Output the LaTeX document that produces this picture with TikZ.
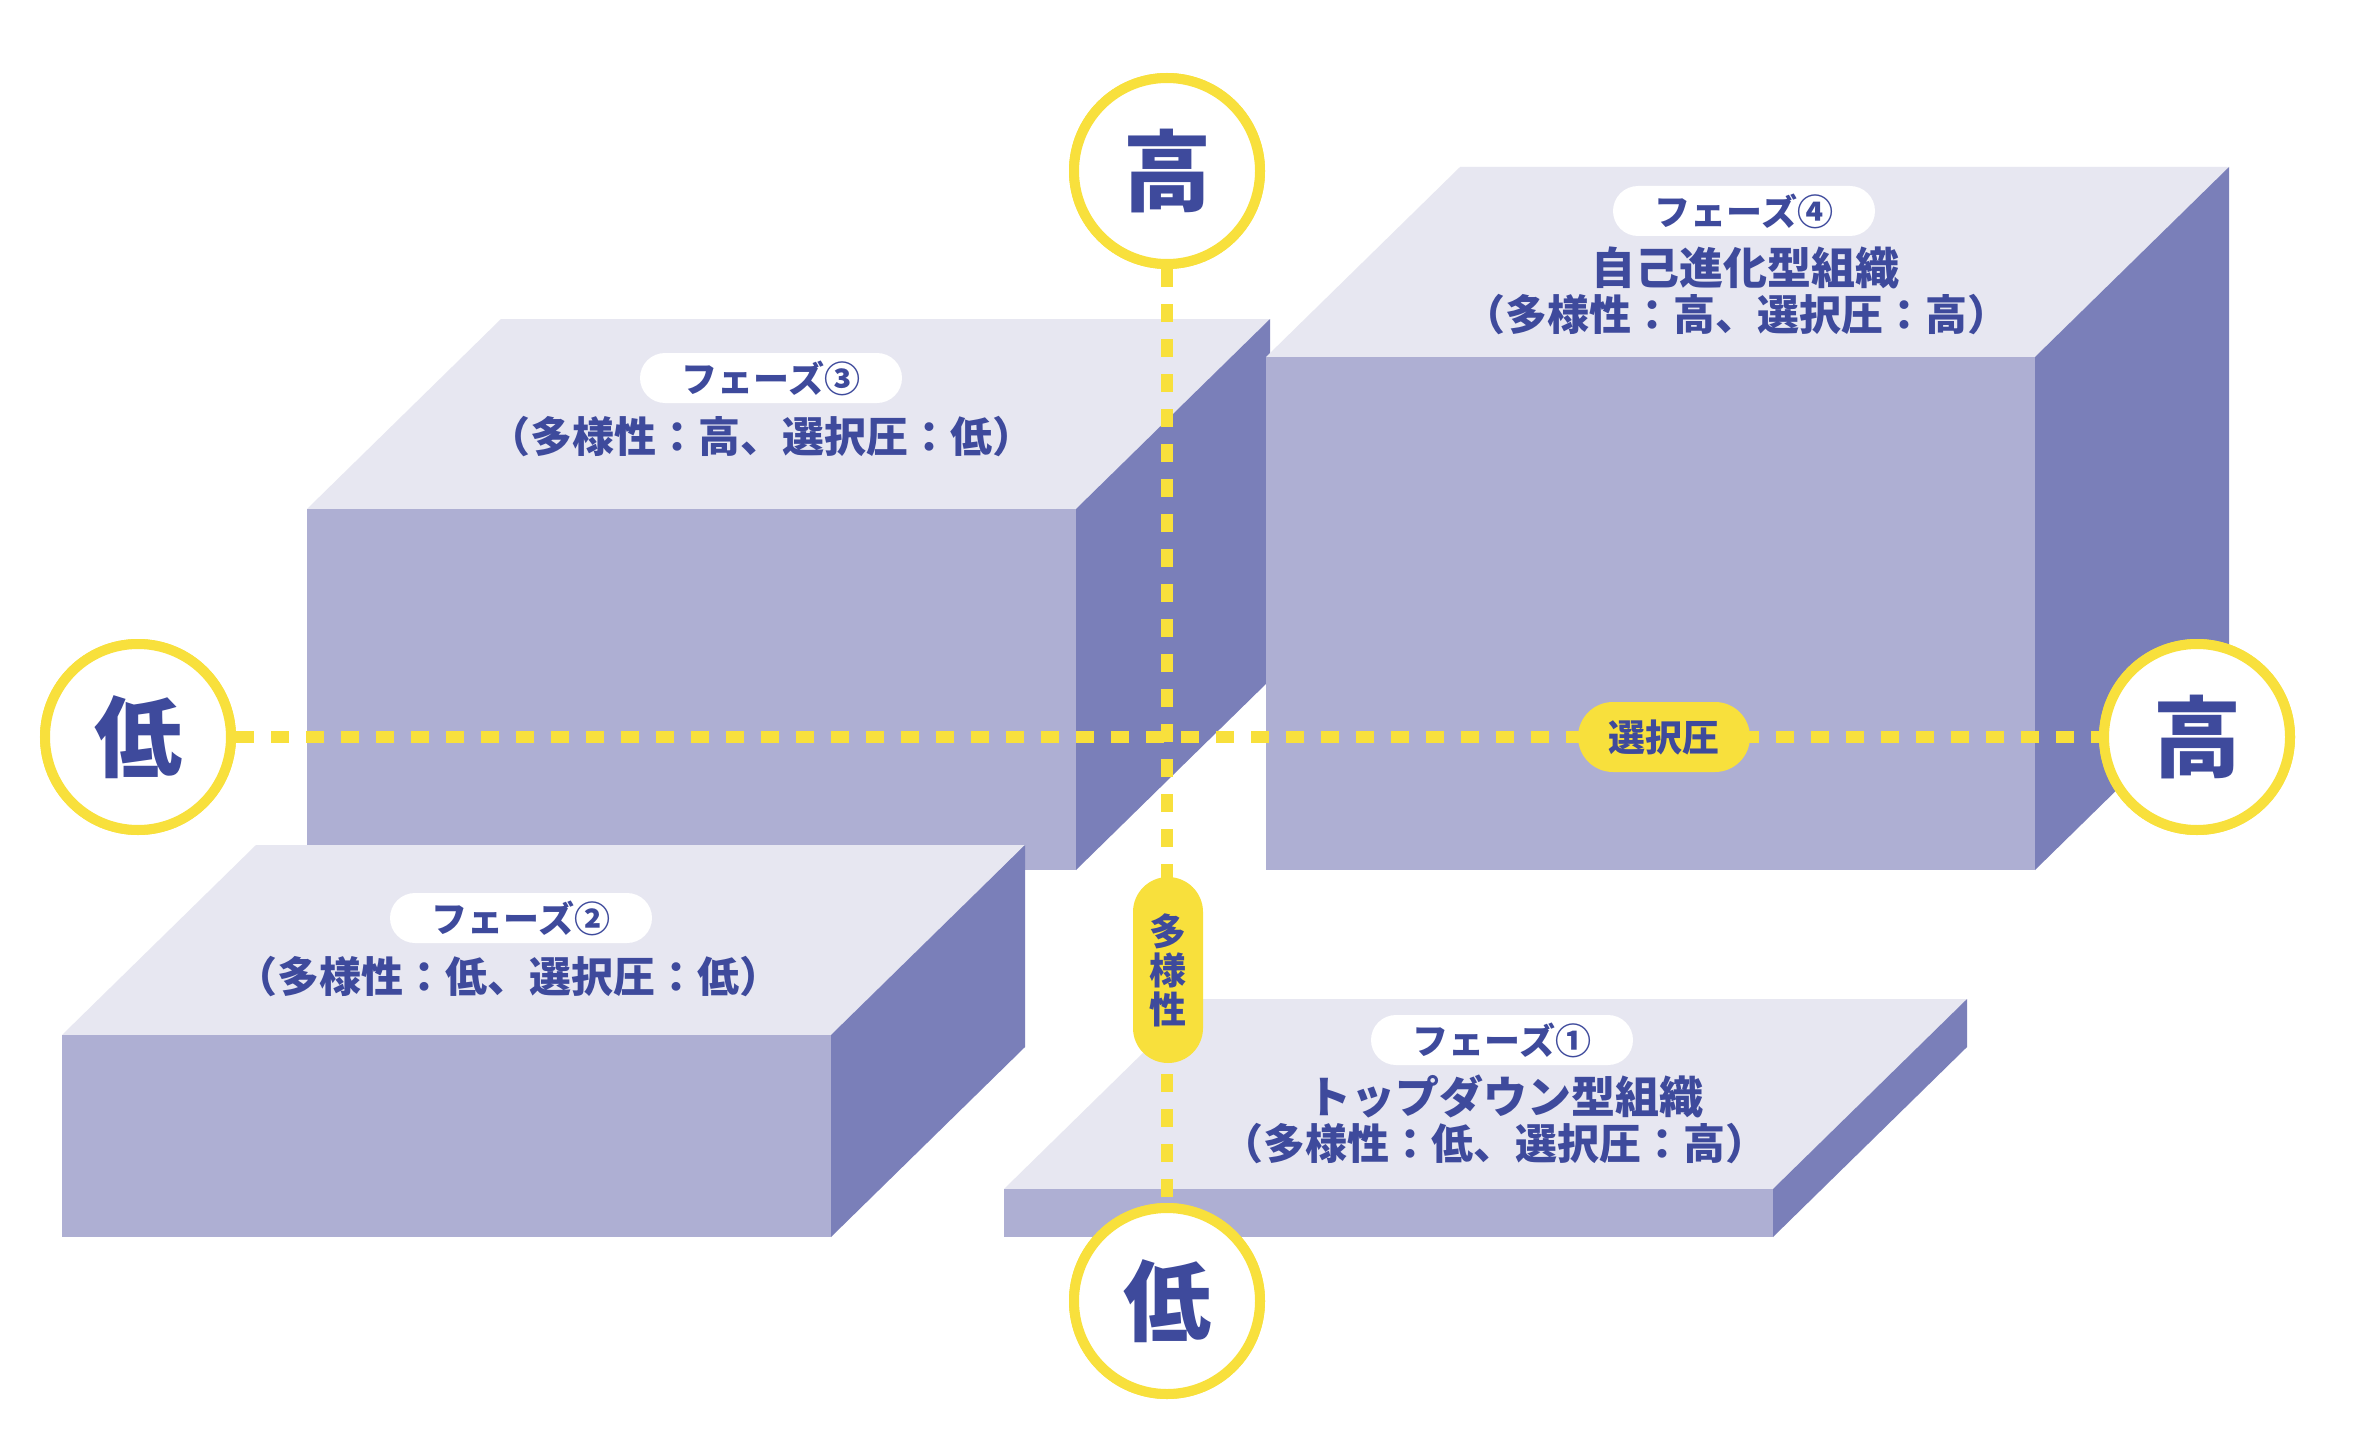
\documentclass[tikz,border=0pt]{standalone}
\usepackage{fontspec}
\newfontfamily\jp{Noto Sans CJK JP}
\definecolor{topc}{HTML}{E7E7F1}
\definecolor{frontc}{HTML}{AEAFD3}
\definecolor{sidec}{HTML}{7A7FB9}
\definecolor{textc}{HTML}{3E4A9C}
\definecolor{yel}{HTML}{F8E03C}
\newcommand{\phasebox}[3]{%
  \fill[topc] (#1,#2) -- ++(769,0) -- ++(194,-190) -- ++(-769,0) -- cycle;
  \fill[frontc] (#1,#2) rectangle ({#1+769},#3);
  \fill[sidec] ({#1+769},#2) -- ++(194,-190) -- ({#1+963},{#3-190}) -- ({#1+769},#3) -- cycle;
}
\tikzset{
  axiscircle/.style={circle, draw=yel, line width=10pt, fill=white, minimum size=186pt, inner sep=0pt,
    text=textc, font=\jp\bfseries\fontsize{88}{90}\selectfont},
  dots/.style={draw=yel, line width=12pt, dash pattern=on 18pt off 17pt},
  phasepill/.style={fill=white, rounded corners=25pt, minimum width=262pt, minimum height=50pt, inner sep=0pt,
    text=textc, font=\jp\bfseries\fontsize{36}{38}\selectfont},
  phasetext/.style={text=textc, font=\jp\bfseries\fontsize{42}{46}\selectfont, inner sep=0pt},
  phasename/.style={text=textc, font=\jp\bfseries\fontsize{44}{48}\selectfont, inner sep=0pt},
  axispill/.style={fill=yel, inner sep=0pt, text=textc, font=\jp\bfseries\fontsize{37}{39}\selectfont}
}
\begin{document}
\begin{tikzpicture}[x=1pt,y=-1pt]
\useasboundingbox (0,0) rectangle (2363,1439);
\fill[white] (0,0) rectangle (2363,1439);
% boxes
\phasebox{307}{509}{870}
\phasebox{1266}{357}{870}
\phasebox{62}{1035}{1237}
\phasebox{1004}{1189}{1237}
% axis circles
\node[axiscircle] (hiT) at (1167,171) {高};
\node[axiscircle] (loB) at (1167,1301) {低};
\node[axiscircle] (loL) at (138,737) {低};
\node[axiscircle] (hiR) at (2197,737) {高};
% axes
\draw[dots] (hiT.south) -- (loB.north);
\draw[dots] (loL.east) -- (hiR.west);
% redraw circles over line ends
\node[axiscircle] at (hiT) {高};
\node[axiscircle] at (loB) {低};
\node[axiscircle] at (loL) {低};
\node[axiscircle] at (hiR) {高};
% axis pills
\node[axispill, rounded corners=35pt, minimum width=172pt, minimum height=70pt] (sel) at (1664,737) {選択圧};
\node[axispill, rounded corners=35pt, minimum width=70pt, minimum height=186pt, align=center] (div) at (1168,970) {多\\様\\性};
% phase 3
\node[phasepill] (p3) at (771,378) {フェーズ③};
\node[phasetext] (t3) at (761,437) {（多様性：高、選択圧：低）};
% phase 4
\node[phasepill] (p4) at (1744,211) {フェーズ④};
\node[phasename] (n4) at (1745,268) {自己進化型組織};
\node[phasetext] (t4) at (1736,315) {（多様性：高、選択圧：高）};
% phase 2
\node[phasepill] (p2) at (521,918) {フェーズ②};
\node[phasetext] (t2) at (508,977) {（多様性：低、選択圧：低）};
% phase 1
\node[phasepill] (p1) at (1502,1040) {フェーズ①};
\node[phasename] (n1) at (1505,1096) {トップダウン型組織};
\node[phasetext] (t1) at (1494,1144) {（多様性：低、選択圧：高）};
\end{tikzpicture}
\end{document}
